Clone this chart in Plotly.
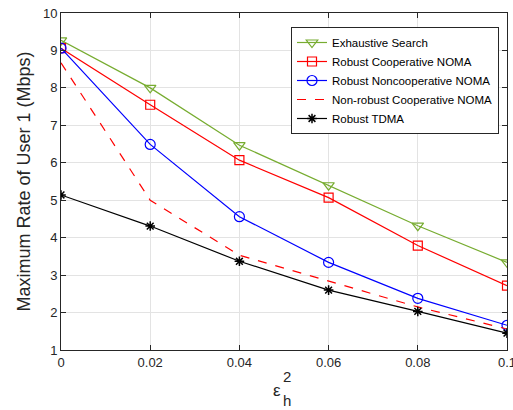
import plotly.graph_objects as go

eps = [0, 0.02, 0.04, 0.06, 0.08, 0.1]
exhaustive = [9.27, 8.0, 6.47, 5.4, 4.32, 3.34]
robust_coop = [9.06, 7.55, 6.07, 5.07, 3.79, 2.72]
robust_noncoop = [9.06, 6.49, 4.56, 3.34, 2.38, 1.66]
nonrobust_coop = [8.67, 5.0, 3.53, 2.85, 2.15, 1.56]
robust_tdma = [5.14, 4.31, 3.37, 2.6, 2.03, 1.45]

x_ticks = [0, 0.02, 0.04, 0.06, 0.08, 0.1]
x_tick_labels = ["0", "0.02", "0.04", "0.06", "0.08", "0.1"]
y_ticks = list(range(1, 11))

FONT = "Liberation Sans, Arial, sans-serif"

fig = go.Figure()
fig.add_trace(go.Scatter(x=eps, y=exhaustive, name="Exhaustive Search", mode="lines+markers",
                         line=dict(color="#77AC30", width=1.2),
                         marker=dict(symbol="triangle-down-open", size=10, color="#77AC30", line=dict(width=1.2))))
fig.add_trace(go.Scatter(x=eps, y=robust_coop, name="Robust Cooperative NOMA", mode="lines+markers",
                         line=dict(color="#FF0000", width=1.2),
                         marker=dict(symbol="square-open", size=9, color="#FF0000", line=dict(width=1.2))))
fig.add_trace(go.Scatter(x=eps, y=robust_noncoop, name="Robust Noncooperative NOMA", mode="lines+markers",
                         line=dict(color="#0000FF", width=1.2),
                         marker=dict(symbol="circle-open", size=10, color="#0000FF", line=dict(width=1.2))))
fig.add_trace(go.Scatter(x=eps, y=nonrobust_coop, name="Non-robust Cooperative NOMA", mode="lines",
                         line=dict(color="#FF0000", width=1.2, dash="dash")))
fig.add_trace(go.Scatter(x=eps, y=robust_tdma, name="Robust TDMA", mode="lines+markers",
                         line=dict(color="#000000", width=1.2),
                         marker=dict(symbol="asterisk-open", size=8, color="#000000", line=dict(width=1.5, color="#000000"))))

axis_common = dict(showgrid=True, gridcolor="#E3E3E3", gridwidth=1, showline=True, linecolor="#262626",
                   linewidth=1, mirror="ticks", ticks="inside", ticklen=5, tickcolor="#262626",
                   zeroline=False, ticklabeloverflow="allow", automargin=False,
                   tickfont=dict(family=FONT, size=13, color="#262626"))

fig.update_xaxes(range=[0, 0.1], tickvals=x_ticks, ticktext=x_tick_labels, **axis_common)
fig.update_yaxes(range=[1, 10], tickvals=y_ticks, **axis_common)

fig.add_annotation(xref="paper", yref="paper", x=(23 - 61) / 446, y=0.5, text="Maximum Rate of User 1 (Mbps)",
                   textangle=-90, showarrow=False, font=dict(family=FONT, size=18, color="#262626"),
                   xanchor="center", yanchor="middle")
fig.add_annotation(xref="paper", yref="paper", x=(277 - 61) / 446, y=(350 - 390) / 337, text="ε",
                   showarrow=False, font=dict(family=FONT, size=17, color="#262626"), xanchor="center", yanchor="middle")
fig.add_annotation(xref="paper", yref="paper", x=(287 - 61) / 446, y=(350 - 376) / 337, text="2",
                   showarrow=False, font=dict(family=FONT, size=15, color="#262626"), xanchor="center", yanchor="middle")
fig.add_annotation(xref="paper", yref="paper", x=(287 - 61) / 446, y=(350 - 400) / 337, text="h",
                   showarrow=False, font=dict(family=FONT, size=15, color="#262626"), xanchor="center", yanchor="middle")

fig.update_layout(
    width=513, height=410,
    margin=dict(l=61, r=6, t=13, b=60),
    plot_bgcolor="white", paper_bgcolor="white",
    showlegend=True,
    legend=dict(x=(291 - 61) / 446, y=(350 - 27) / 337, xanchor="left", yanchor="top",
                bgcolor="white", bordercolor="#262626", borderwidth=1,
                font=dict(family=FONT, size=11.5, color="#000000"),
                tracegroupgap=0, itemwidth=30),
    font=dict(family=FONT),
)

fig.write_html("out.html", config={"displayModeBar": False},
               post_script="document.body.style.margin='0';document.body.style.overflow='hidden';")
